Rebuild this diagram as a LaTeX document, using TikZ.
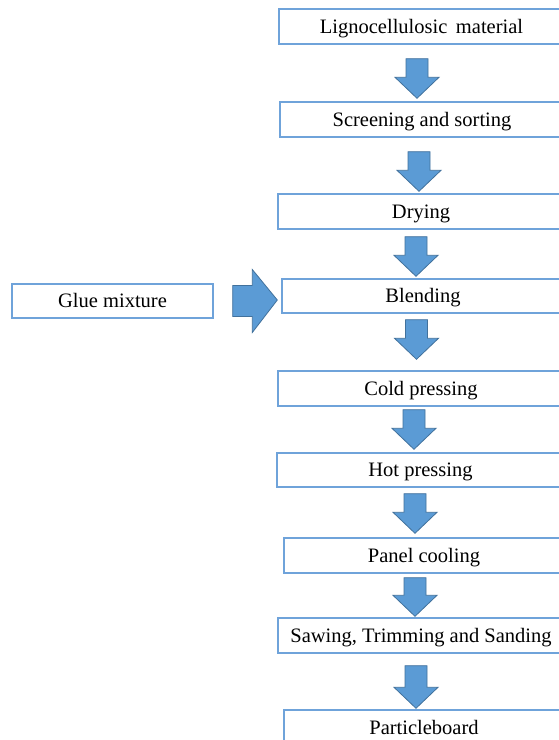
\documentclass[tikz,border=0pt]{standalone}
\usepackage{fontspec}
\setmainfont{Liberation Serif}
\usetikzlibrary{calc}
\definecolor{boxline}{HTML}{6FA3DA}
\definecolor{arrfill}{HTML}{5B9BD5}
\definecolor{arredge}{HTML}{41719C}

\begin{document}
\begin{tikzpicture}[
        x=1pt, y=-1pt,
        stage/.style={rectangle, draw=boxline, line width=1.4pt, fill=white, inner sep=2pt,
            minimum height=35pt, text height=15pt, text depth=2pt,
            font=\fontsize{20.5}{24}\selectfont},
        downarr/.style={draw=arredge, fill=arrfill, line width=0.8pt, line join=miter,
            to path={let \p1=(\tikztostart), \p2=(\tikztotarget) in
                (\x1-11pt,\y1) -- (\x1+11pt,\y1) -- (\x1+11pt,\y2+21pt) -- (\x1+22pt,\y2+21pt)
                -- (\x1,\y2) -- (\x1-22pt,\y2+21pt) -- (\x1-11pt,\y2+21pt) -- cycle}},
        sidearr/.style={draw=arredge, fill=arrfill, line width=0.8pt, line join=miter,
            to path={let \p1=(\tikztostart), \p2=(\tikztotarget) in
                (\x1,\y1+15.5pt) -- (\x1,\y1-15.5pt) -- (\x2-25pt,\y1-15.5pt) -- (\x2-25pt,\y1-31.5pt)
                -- (\x2,\y1+1pt) -- (\x2-25pt,\y1+31.5pt) -- (\x2-25pt,\y1+15.5pt) -- cycle}},
    ]
    \useasboundingbox (0,0) rectangle (559,740);
    \clip (0,0) rectangle (559,740);
    \fill[white] (0,0) rectangle (559,740);
    \node[stage, minimum width=285pt] (lig)   at (421.5, 26.5)  {Lignocellulosic\, material};
    \node[stage, minimum width=284pt] (scr)   at (422, 119.5)   {Screening and sorting};
    \node[stage, minimum width=286pt] (dry)   at (421, 211.5)   {Drying};
    \node[stage, minimum width=282pt, minimum height=34pt] (blend) at (423, 296) {Blending};
    \node[stage, minimum width=201pt, minimum height=34pt] (glue)  at (112.5, 301) {Glue mixture};
    \node[stage, minimum width=286pt] (cold)  at (421, 388.5)   {Cold pressing};
    \node[stage, minimum width=287pt, minimum height=34pt] (hot) at (420.5, 470) {Hot pressing};
    \node[stage, minimum width=280pt] (cool)  at (424, 555.5)   {Panel cooling};
    \node[stage, minimum width=286pt] (saw)   at (421, 635.5)   {Sawing, Trimming and Sanding};
    \node[stage, minimum width=280pt] (part)  at (424, 727.5)   {Particleboard};
    \draw[downarr] ([xshift=-4.5pt, yshift=-14pt]lig.south) to ([yshift=3pt]scr.north);
    \draw[downarr] ([xshift=-3pt, yshift=-14pt]scr.south)   to ([yshift=2pt]dry.north);
    \draw[downarr] ([xshift=-5pt, yshift=-7pt]dry.south)    to ([yshift=2pt]blend.north);
    \draw[downarr] ([xshift=-6.5pt, yshift=-6pt]blend.south) to ([yshift=11pt]cold.north);
    \draw[downarr] ([xshift=-7pt, yshift=-3pt]cold.south)   to ([yshift=3pt]hot.north);
    \draw[downarr] ([xshift=-5.5pt, yshift=-6pt]hot.south)  to ([yshift=4pt]cool.north);
    \draw[downarr] ([xshift=-9pt, yshift=-4pt]cool.south)   to ([yshift=1pt]saw.north);
    \draw[downarr] ([xshift=-5pt, yshift=-12pt]saw.south)   to ([yshift=1pt]part.north);
    \draw[sidearr] ([xshift=19pt]glue.east) to ([xshift=-4pt]blend.west);
\end{tikzpicture}
\end{document}
